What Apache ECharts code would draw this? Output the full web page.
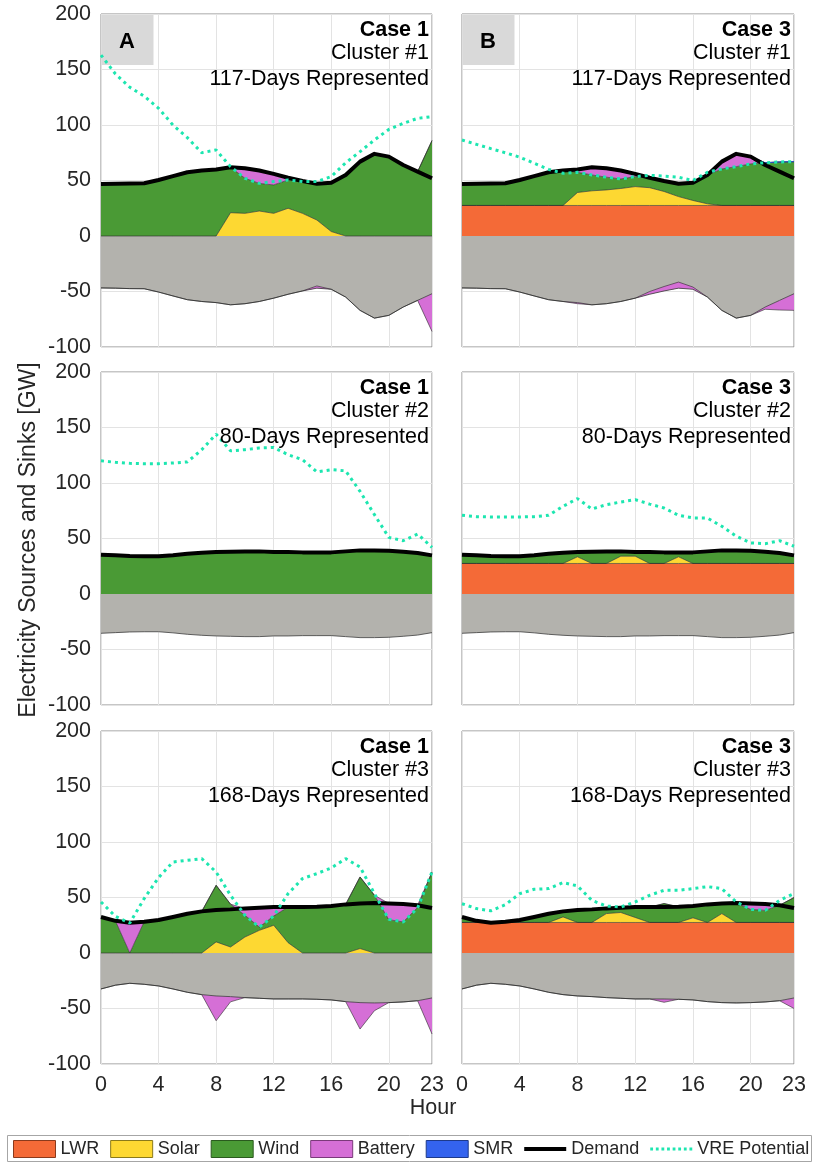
<!DOCTYPE html>
<html><head><meta charset="utf-8">
<script src="https://cdn.jsdelivr.net/npm/echarts@6/dist/echarts.min.js"></script>
<style>html,body{margin:0;padding:0;background:#fff}#c{width:814px;height:1164px}</style>
</head><body><div id="c"></div>
<script>
// ---------- data ----------
const hours = [0,1,2,3,4,5,6,7,8,9,10,11,12,13,14,15,16,17,18,19,20,21,22,23];
const xTicks = [0,4,8,12,16,20,23];
const yTicks = [-100,-50,0,50,100,150,200];

const demandC1 = [46.8,47,47.4,47.5,50.5,54,57.4,59,60,62,61,59,56,52.5,49.5,47,48,55,67,74,71.5,64,58,52];
const demandC2 = [35.4,34.8,34.2,34,34,35,36.3,37.2,37.8,38.1,38.4,38.4,37.8,37.8,37.5,37.5,37.5,38.4,39.3,39.3,39,38.1,37,34.8];
const demandC3 = [32.4,29,27.3,28.2,29.7,32.4,35.4,37.5,38.7,39.3,40.2,40.8,41.4,41.4,41.4,41.7,42.3,43.8,44.7,45,44.7,44.1,43,40.5];

// Case 1, Cluster 1
const solarA1 = [0,0,0,0,0,0,0,0,0,21,20.4,22.5,20.4,25,20.4,14.4,4,0,0,0,0,0,0,0];
const windA1  = [46.8,47,47.4,47.5,50.5,54,57.4,59,60,41,31.6,24.9,25.6,25.5,29.1,32.6,44,55,67,74,71.5,64,58,86];
const batA1   = [0,0,0,0,0,0,0,0,0,0,9,11.6,10,2,0,0,0,0,0,0,0,0,0,0];
const sinkBatA1 = [0,0,0,0,0,0,0,0,0,0,0,0,0,0,0,2,0,0,0,0,0,0,0,-34];
const vreA1   = [163,146,134,126,115,100,88.6,75,77.5,62.5,52,47.4,49,50.5,49,49,53.5,66,76,86.5,96,101.5,106,107.5];

// Case 3, Cluster 1
const lwrB1   = [27.5,27.5,27.5,27.5,27.5,27.5,27.5,27.5,27.5,27.5,27.5,27.5,27.5,27.5,27.5,27.5,27.5,27.5,27.5,27.5,27.5,27.5,27.5,27.5];
const solarB1 = [0,0,0,0,0,0,0,0,11.7,13.2,14,15.3,17,16,12.6,8,4.5,1.5,0,0,0,0,0,0];
const windB1  = [19.3,19.5,19.9,20,23,26.5,29.9,31.5,18.2,14.3,11.5,8.6,9,9,9.4,11.5,16,26,32.9,35,37.5,38.5,39.2,39.5];
const batB1   = [0,0,0,0,0,0,0,0,2.6,7,8,7.6,2.5,0,0,0,0,0,6.6,11.5,6.5,0,0,0];
const smrB1   = [0,0,0,0,0,0,0,0,0,0,0,0,0,0,0,0,0,0,0,0,0,0,0,0];
const sinkBatB1 = [0,0,0,0,0,0,0,0,-1,0,0,0,0,2.5,4,5.5,2,0,0,0,0,-2,-8.7,-15];
const vreB1   = [86.5,82.6,78.7,75,71,65.5,60,56.5,57.4,55,53,51.4,53.5,54.7,54,53,50,57.4,60.4,62.5,65,66,66.7,67];

// Case 1, Cluster 2
const windA2  = [35.4,34.8,34.2,34,34,35,36.3,37.2,37.8,38.1,38.4,38.4,37.8,37.8,37.5,37.5,37.5,38.4,39.3,39.3,39,38.1,37,34.8];
const vreA2   = [120,118.6,117.7,117.4,117.4,118,119,130,144,129,130,131.5,132,125.5,121,110,112,111,92.5,71.5,51,48,54,42];

// Case 3, Cluster 2
const lwrB2   = [27.5,27.5,27.5,27.5,27.5,27.5,27.5,27.5,27.5,27.5,27.5,27.5,27.5,27.5,27.5,27.5,27.5,27.5,27.5,27.5,27.5,27.5,27.5,27.5];
const solarB2 = [0,0,0,0,0,0,0,0,6,0,0,6.6,6.6,0,0,6,0,0,0,0,0,0,0,0];
const windB2  = [7.9,7.3,6.7,6.5,6.5,7.5,8.8,9.7,4.3,10.6,10.9,4.3,3.7,10.3,10,4,10,10.9,11.8,11.8,11.5,10.6,9.5,7.3];
const smrB2   = [0,0,0,0,0,0,0,0,0,0,0,0,0,0,0,0,0,0,0,0,0,0,0,0];
const vreB2   = [70.9,69.7,69.4,69.4,69.4,69.7,70.9,79,85.9,76.6,80.5,82.9,85,81,77.5,70.9,68.5,68.5,61,52,46,45.3,48,43];

// Case 1, Cluster 3
const solarA3 = [0,0,0,0,0,0,0,0,10,5.4,14.4,20.4,25,9.3,0,0,0,0,4,0,0,0,0,0];
const windA3  = [32.4,29,0,28.2,29.7,32.4,35.4,37.5,51,38.6,19.6,3,8.3,32.1,41.4,41.7,42.3,43.8,64.5,52,30,28,41,73];
const batA3   = [0,0,27.3,0,0,0,0,0,0,0,6.2,17.4,8.1,0,0,0,0,0,0,0,14.7,16.1,2,0];
const sinkBatA3 = [0,0,0,0,0,0,0,0,-22.3,-4.7,0,0,0,0,0,0,0,0,-23.8,-7,0,0,0,-32.5];
const vreA3   = [46,33,27,49,68,82,83.5,85,73,52,34,23.4,33.3,53.5,67,71.5,76.6,85,77.5,53.5,30.3,28,40.5,73];

// Case 3, Cluster 3
const lwrB3   = [27.5,27.5,27.5,27.5,27.5,27.5,27.5,27.5,27.5,27.5,27.5,27.5,27.5,27.5,27.5,27.5,27.5,27.5,27.5,27.5,27.5,27.5,27.5,27.5];
const solarB3 = [0,0,0,0,0,0,0,5,0,0,8,9,4.5,0,0,0,4.2,0,8,0,0,0,0,0];
const windB3  = [4.9,1.5,0,0.7,2.2,4.9,7.9,5,11.2,11.8,4.7,4.3,9.4,13.9,17,14.2,10.6,16.3,9.2,17.5,11.8,10.9,15.5,22.5];
const batB3   = [0,0,0,0,0,0,0,0,0,0,0,0,0,0,0,0,0,0,0,0,5.4,5.7,0,0];
const smrB3   = [0,0,0,0,0,0,0,0,0,0,0,0,0,0,0,0,0,0,0,0,0,0,0,0];
const sinkBatB3 = [0,0,0,0,0,0,0,0,0,0,0,0,0,0,-3,0,0,0,0,0,0,0,0,-9.5];
const vreB3   = [44.4,40,38,43.5,53.5,57.4,58,63.4,60.4,47.4,42.3,41.4,46,52,56.5,56.5,58,59.8,58,46,39.3,38.4,47.4,53.5];

const caseLabels = ['Case 1','Case 3'];
const clusterLabels = ['Cluster #1','Cluster #2','Cluster #3'];
const daysLabels = ['117-Days Represented','80-Days Represented','168-Days Represented'];
const panelLetters = ['A','B'];

// ---------- styles ----------
const C = {LWR:'#f46a37', Solar:'#fdd832', Wind:'#4a9a35', Battery:'#d56fd6', SMR:'#3463ee', Sink:'#b3b2ad', VRE:'#1de6b0'};
const FONT = '"Liberation Sans", Arial, Helvetica, sans-serif';
const TXT = '#262626';

const panels = [
  {demand:demandC1, lwr:null,  solar:solarA1, wind:windA1, bat:batA1, smr:null,  smrEdge:0,   sinkBat:sinkBatA1, vre:vreA1},
  {demand:demandC1, lwr:lwrB1, solar:solarB1, wind:windB1, bat:batB1, smr:smrB1, smrEdge:1,   sinkBat:sinkBatB1, vre:vreB1},
  {demand:demandC2, lwr:null,  solar:null,    wind:windA2, bat:null,  smr:null,  smrEdge:0,   sinkBat:null,      vre:vreA2},
  {demand:demandC2, lwr:lwrB2, solar:solarB2, wind:windB2, bat:null,  smr:smrB2, smrEdge:0,   sinkBat:null,      vre:vreB2},
  {demand:demandC3, lwr:null,  solar:solarA3, wind:windA3, bat:batA3, smr:null,  smrEdge:0,   sinkBat:sinkBatA3, vre:vreA3},
  {demand:demandC3, lwr:lwrB3, solar:solarB3, wind:windB3, bat:batB3, smr:smrB3, smrEdge:0,   sinkBat:sinkBatB3, vre:vreB3}
];

const colLeft = [101, 462], colWidth = [331, 332];
const rowTop = [14, 372, 731], rowHeight = 333;
const tickShown = (i) => xTicks.indexOf(hours[i]) >= 0;

const grids = [], xAxes = [], yAxes = [], series = [], graphics = [];
panels.forEach((p, k) => {
  const col = k % 2, row = Math.floor(k / 2);
  grids.push({left: colLeft[col], top: rowTop[row], width: colWidth[col], height: rowHeight,
    show: true, borderColor: '#8c8c8c', borderWidth: 1, backgroundColor: 'transparent', containLabel: false});
  xAxes.push({type: 'category', gridIndex: k, data: hours.map(String), boundaryGap: false,
    axisLine: {show: false}, axisTick: {show: false},
    splitLine: {show: true, interval: tickShown, lineStyle: {color: '#e3e3e3', width: 1}},
    axisLabel: {show: row === 2, interval: tickShown, fontSize: 21.5, color: TXT, fontFamily: FONT, margin: 10}});
  yAxes.push({type: 'value', gridIndex: k, min: yTicks[0], max: yTicks[yTicks.length - 1], interval: 50,
    axisLine: {show: false}, axisTick: {show: false},
    splitLine: {show: true, lineStyle: {color: '#e3e3e3', width: 1}},
    axisLabel: {show: col === 0, fontSize: 21.5, color: TXT, fontFamily: FONT, margin: 10}});

  const edge = {width: 0.8, color: 'rgba(40,40,40,0.75)'};
  const area = (name, data, color, stack, extra) => Object.assign({
    type: 'line', name, xAxisIndex: k, yAxisIndex: k, stack: stack + k, data: data,
    symbol: 'none', showSymbol: false, silent: true, lineStyle: edge,
    areaStyle: {color, opacity: 1}, itemStyle: {color}, z: 2
  }, extra || {});

  // sinks
  series.push(area('Sinks', p.demand.map(v => -v), C.Sink, 'sink', {stackStrategy: 'all', lineStyle: {width: 1, color: 'rgba(60,60,60,0.8)'}}));
  if (p.sinkBat) series.push(area('Battery', p.sinkBat, C.Battery, 'sink', {stackStrategy: 'all'}));
  // generation
  if (p.lwr) series.push(area('LWR', p.lwr, C.LWR, 'gen'));
  if (p.solar) series.push(area('Solar', p.solar, C.Solar, 'gen'));
  series.push(area('Wind', p.wind, C.Wind, 'gen'));
  if (p.bat) series.push(area('Battery', p.bat, C.Battery, 'gen'));
  if (p.smr) series.push(area('SMR', p.smr, C.SMR, 'gen', {lineStyle: {width: p.smrEdge, color: '#2a4fd0'}}));
  // lines
  series.push({type: 'line', name: 'Demand', xAxisIndex: k, yAxisIndex: k, data: p.demand,
    symbol: 'none', showSymbol: false, silent: true, z: 4,
    lineStyle: {width: 4, color: '#000', join: 'round'}, itemStyle: {color: '#000'}});
  series.push({type: 'line', name: 'VRE Potential', xAxisIndex: k, yAxisIndex: k, data: p.vre,
    symbol: 'none', showSymbol: false, silent: true, z: 5,
    lineStyle: {width: 3, color: C.VRE, type: [3, 4]}, itemStyle: {color: C.VRE}});

  // titles
  const rx = colLeft[col] + colWidth[col] - 3, ty = rowTop[row];
  graphics.push({type: 'text', z: 100, style: {text: caseLabels[col], x: rx, y: ty + 16, align: 'right', verticalAlign: 'middle',
    font: 'bold 21.5px ' + FONT, fill: '#000'}});
  graphics.push({type: 'text', z: 100, style: {text: clusterLabels[row], x: rx, y: ty + 39, align: 'right', verticalAlign: 'middle',
    font: '21.5px ' + FONT, fill: '#000'}});
  graphics.push({type: 'text', z: 100, style: {text: daysLabels[row], x: rx, y: ty + 65, align: 'right', verticalAlign: 'middle',
    font: '21.5px ' + FONT, fill: '#000'}});
  if (row === 0) {
    graphics.push({type: 'rect', z: 1, shape: {x: colLeft[col] + 0.5, y: ty + 1, width: 52, height: 50}, style: {fill: '#d9d9d9'}});
    graphics.push({type: 'text', z: 100, style: {text: panelLetters[col], x: colLeft[col] + 26, y: ty + 28, align: 'center', verticalAlign: 'middle',
      font: 'bold 22px ' + FONT, fill: '#000'}});
  }
});

graphics.push({type: 'text', z: 100, rotation: Math.PI / 2, x: 29, y: 540,
  style: {text: 'Electricity Sources and Sinks [GW]', x: 0, y: 0, align: 'center', verticalAlign: 'middle', font: '23px ' + FONT, fill: TXT}});
graphics.push({type: 'text', z: 100, style: {text: 'Hour', x: 433, y: 1108, align: 'center', verticalAlign: 'middle', font: '21.5px ' + FONT, fill: TXT}});
graphics.push({type: 'rect', z: 0, shape: {x: 7.5, y: 1135.5, width: 804, height: 26}, style: {fill: '#fff', stroke: '#a6a6a6', lineWidth: 1}});

let dotPath = 'path://';
for (let x = 0; x < 36; x += 5) dotPath += 'M' + x + ',0h2.5v2.5h-2.5z';

const legendItem = (name, color, border) => ({name, icon: 'rect', itemStyle: {color, borderColor: border, borderWidth: 1}});

const chart = echarts.init(document.getElementById('c'), null, {renderer: 'canvas'});
chart.setOption({
  animation: false,
  backgroundColor: '#fff',
  grid: grids, xAxis: xAxes, yAxis: yAxes,
  legend: {left: 13, top: 1140, width: 801, padding: 0, itemWidth: 42, itemHeight: 17, itemGap: 11, selectedMode: false, z: 10,
    symbolKeepAspect: true,
    textStyle: {fontSize: 18, color: TXT, fontFamily: FONT},
    data: [
      legendItem('LWR', C.LWR, '#8a3a1c'),
      legendItem('Solar', C.Solar, '#8a7a1a'),
      legendItem('Wind', C.Wind, '#2a5a1e'),
      legendItem('Battery', C.Battery, '#7a3a7a'),
      legendItem('SMR', C.SMR, '#1e3a8a'),
      {name: 'Demand', icon: 'path://M0,0 L42,0 L42,4 L0,4 Z', itemStyle: {color: '#000'}},
      {name: 'VRE Potential', icon: dotPath, itemStyle: {color: C.VRE, borderWidth: 0}}
    ]},
  graphic: graphics,
  series
});
</script></body></html>
